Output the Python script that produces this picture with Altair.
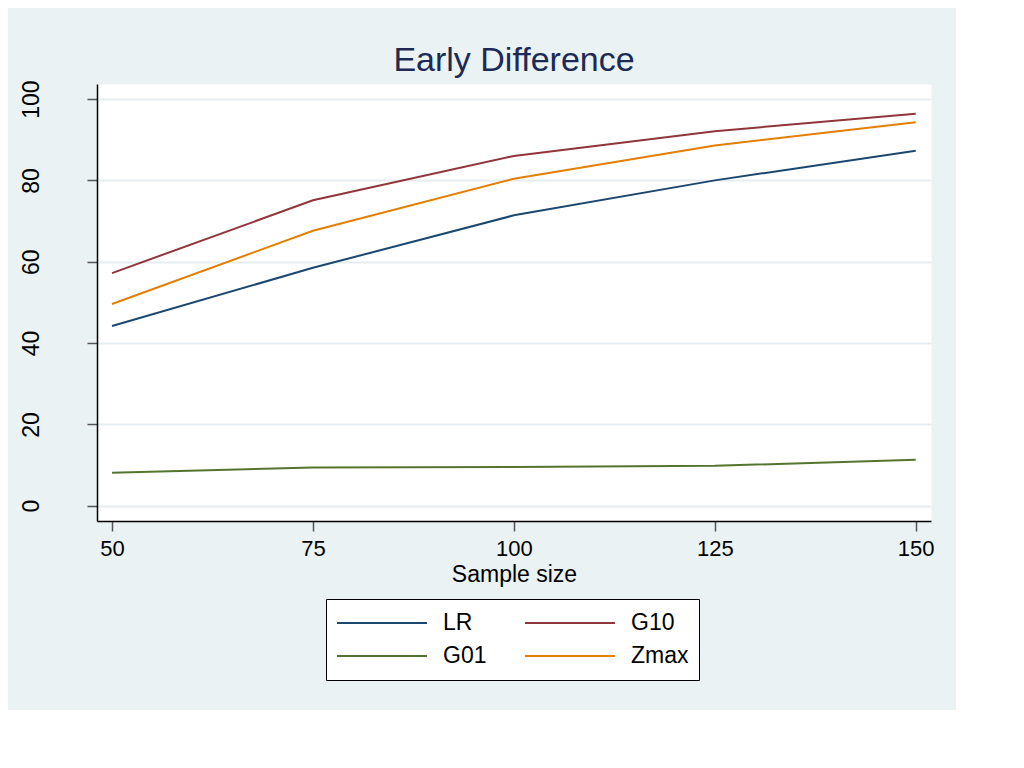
import altair as alt
import pandas as pd

sample_sizes = [50, 75, 100, 125, 150]
# legend fills column-major: this order puts LR, G10 on row 1 and G01, Zmax on row 2
series_names = ["LR", "G01", "G10", "Zmax"]
lr = [44.2, 58.5, 71.4, 80.0, 87.3]
g01 = [8.1, 9.4, 9.5, 9.8, 11.3]
g10 = [57.2, 75.1, 86.0, 92.1, 96.4]
zmax = [49.6, 67.6, 80.4, 88.6, 94.3]
colors = ["#1A476F", "#55752F", "#90353B", "#E37E00"]
x_ticks = [50, 75, 100, 125, 150]
y_ticks = [0, 20, 40, 60, 80, 100]

rows = []
for name, vals in zip(series_names, [lr, g01, g10, zmax]):
    for n, v in zip(sample_sizes, vals):
        rows.append({"n": n, "value": v, "series": name})
df = pd.DataFrame(rows)

FONT = "Liberation Sans"

chart = alt.Chart(df).mark_line(strokeWidth=2, clip=True).encode(
    x=alt.X("n:Q",
            scale=alt.Scale(domain=[48.13, 151.9], nice=False, zero=False),
            axis=alt.Axis(values=x_ticks, title="Sample size", grid=False,
                          labelFontSize=22, labelPadding=7, titleFontSize=23,
                          titleFontWeight="normal", titlePadding=4,
                          tickSize=10, tickWidth=1.5, tickColor="#555555",
                          domainColor="black", domainWidth=1.5,
                          labelColor="black", titleColor="black",
                          labelFont=FONT, titleFont=FONT, labelFlush=False)),
    y=alt.Y("value:Q",
            scale=alt.Scale(domain=[-3.76, 103.7], nice=False, zero=False),
            axis=alt.Axis(values=y_ticks, title=None, grid=True,
                          gridColor="#E6EDF0", gridWidth=2,
                          labelAngle=-90, labelAlign="center", labelBaseline="alphabetic",
                          labelFontSize=23, labelPadding=49, labelFont=FONT,
                          labelColor="black", tickSize=10, tickWidth=1.5,
                          tickColor="#555555", domainColor="black", domainWidth=1.5,
                          labelFlush=False)),
    color=alt.Color("series:N",
                    scale=alt.Scale(domain=series_names, range=colors),
                    sort=series_names,
                    legend=alt.Legend(title=None, orient="none", legendX=229, legendY=515,
                                      columns=2, symbolType="stroke", symbolSize=8100,
                                      symbolStrokeWidth=2, clipHeight=28, rowPadding=5,
                                      columnPadding=37, labelOffset=15, labelFontSize=23,
                                      labelFont=FONT, labelColor="black", padding=10,
                                      strokeColor="black", fillColor="white")),
).properties(
    width=834,
    height=437,
    title=alt.TitleParams("Early Difference", fontSize=34, font=FONT, fontWeight="normal",
                          color="#1C2A55", anchor="middle", frame="group",
                          baseline="alphabetic", offset=-25),
    padding={"left": 89, "top": 76, "right": 25, "bottom": 189},
    autosize=alt.AutoSizeParams(type="none"),
    background="#EAF2F3",
).configure_view(fill="white", stroke="transparent")

chart.save("out.html", embed_options={"renderer": "svg", "actions": False})
